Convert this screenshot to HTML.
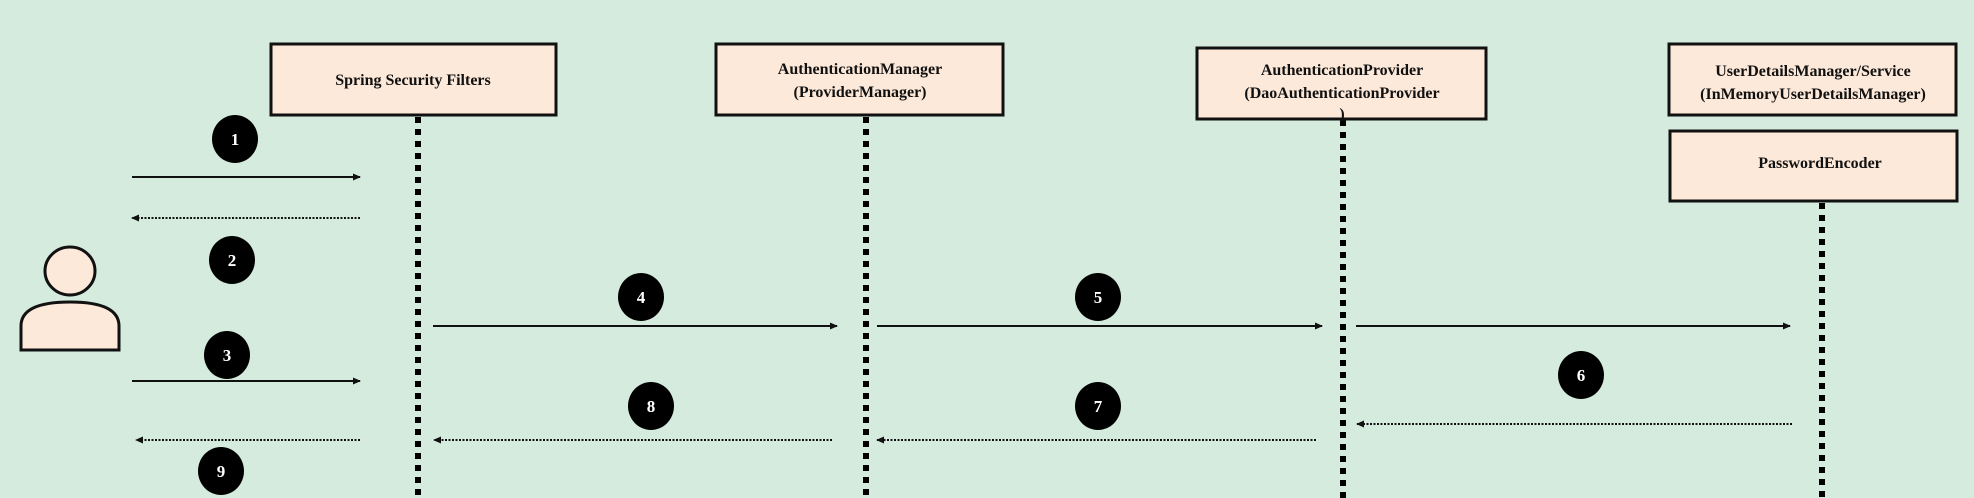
<!DOCTYPE html>
<html><head><meta charset="utf-8"><style>
html,body{margin:0;padding:0;background:#d4ebde;}
svg{display:block}
text{font-family:"Liberation Serif",serif;font-weight:bold;}
</style></head><body>
<svg width="1974" height="498" viewBox="0 0 1974 498" xmlns="http://www.w3.org/2000/svg">
<defs>
<marker id="a" markerWidth="8" markerHeight="8" refX="7" refY="4" orient="auto" markerUnits="userSpaceOnUse"><path d="M0,0.5 L8,4 L0,7.5z" fill="#111"/></marker>
</defs>
<rect width="1974" height="498" fill="#d4ebde"/>
<g stroke="#000" stroke-width="6" stroke-dasharray="6,6">
<line x1="418" y1="117" x2="418" y2="498"/>
<line x1="866" y1="117" x2="866" y2="498"/>
<line x1="1343" y1="120" x2="1343" y2="498"/>
<line x1="1822" y1="203" x2="1822" y2="498"/>
</g>
<g fill="#fde9d9" stroke="#111" stroke-width="3">
<rect x="271" y="44" width="285" height="71"/>
<rect x="716" y="44" width="287" height="71"/>
<rect x="1197" y="48" width="289" height="71"/>
<rect x="1669" y="44" width="287" height="71"/>
<rect x="1670" y="131" width="287" height="70"/>
</g>
<g font-size="16" text-anchor="middle" fill="#111">
<text x="413" y="85">Spring Security Filters</text>
<text x="860" y="74">AuthenticationManager</text>
<text x="860" y="97">(ProviderManager)</text>
<text x="1342" y="75">AuthenticationProvider</text>
<text x="1342" y="98">(DaoAuthenticationProvider</text>
<text x="1342" y="119">)</text>
<text x="1813" y="76">UserDetailsManager/Service</text>
<text x="1813" y="99">(InMemoryUserDetailsManager)</text>
<text x="1820" y="168">PasswordEncoder</text>
</g>
<g stroke="#111" stroke-width="2" marker-end="url(#a)">
<line x1="132" y1="177" x2="360" y2="177"/>
<line x1="132" y1="381" x2="360" y2="381"/>
<line x1="433" y1="326" x2="837" y2="326"/>
<line x1="877" y1="326" x2="1322" y2="326"/>
<line x1="1356" y1="326" x2="1790" y2="326"/>
</g>
<g stroke="#111" stroke-width="2" stroke-dasharray="2,1.5" marker-end="url(#a)">
<line x1="360" y1="218" x2="132" y2="218"/>
<line x1="1792" y1="424" x2="1357" y2="424"/>
<line x1="1316" y1="440" x2="877" y2="440"/>
<line x1="832" y1="440" x2="434" y2="440"/>
<line x1="360" y1="440" x2="136" y2="440"/>
</g>
<g fill="#000">
<ellipse cx="235" cy="139" rx="23" ry="24"/>
<ellipse cx="232" cy="260" rx="23" ry="24"/>
<ellipse cx="227" cy="355" rx="23" ry="24"/>
<ellipse cx="641" cy="297" rx="23" ry="24"/>
<ellipse cx="1098" cy="297" rx="23" ry="24"/>
<ellipse cx="1581" cy="375" rx="23" ry="24"/>
<ellipse cx="1098" cy="406" rx="23" ry="24"/>
<ellipse cx="651" cy="406" rx="23" ry="24"/>
<ellipse cx="221" cy="471" rx="23" ry="24"/>
</g>
<g fill="#fff" font-size="17" text-anchor="middle">
<text x="235" y="145">1</text>
<text x="232" y="266">2</text>
<text x="227" y="361">3</text>
<text x="641" y="303">4</text>
<text x="1098" y="303">5</text>
<text x="1581" y="381">6</text>
<text x="1098" y="412">7</text>
<text x="651" y="412">8</text>
<text x="221" y="477">9</text>
</g>
<g fill="#fde9d9" stroke="#111" stroke-width="3">
<ellipse cx="70" cy="271" rx="25" ry="24"/>
<path d="M21,350 L21,326 Q21,302 70,302 Q119,302 119,326 L119,350 Z"/>
</g>
</svg>
</body></html>
